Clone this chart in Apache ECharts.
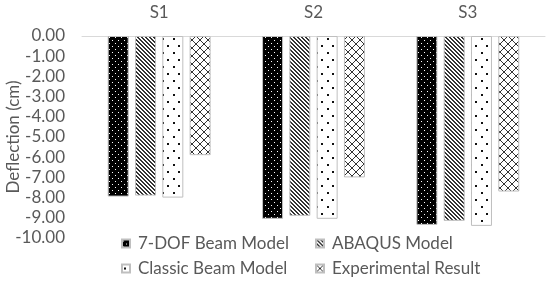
<!DOCTYPE html>
<html>
<head>
<meta charset="utf-8">
<script src="https://cdn.jsdelivr.net/npm/echarts@6/dist/echarts.min.js"></script>
<style>
  html, body { margin: 0; padding: 0; background: #fff; }
  #main { width: 550px; height: 283px; }
</style>
</head>
<body>
<div id="main"></div>
<script>
// data
var categories = ['S1', 'S2', 'S3'];
var dof7 = [-7.95, -9.05, -9.35];
var abaqus = [-7.9, -8.9, -9.15];
var classic = [-8.0, -9.05, -9.4];
var experiment = [-5.9, -7.0, -7.7];
var seriesNames = ['7-DOF Beam Model', 'ABAQUS Model', 'Classic Beam Model', 'Experimental Result'];

// little canvases used as fill patterns
function makeCanvas(w, h) {
  var c = document.createElement('canvas');
  c.width = w; c.height = h;
  return c;
}
function blackDots() {
  var c = makeCanvas(6, 6), g = c.getContext('2d');
  g.fillStyle = '#000'; g.fillRect(0, 0, 6, 6);
  g.fillStyle = '#fff';
  g.fillRect(1, 1, 1, 1);
  g.fillRect(4, 4, 1, 1);
  return c;
}
function hatch() {
  var c = makeCanvas(4, 4), g = c.getContext('2d');
  g.fillStyle = '#fff'; g.fillRect(0, 0, 4, 4);
  g.fillStyle = '#333';
  for (var i = 0; i < 4; i++) {
    g.fillRect(i, i, 1, 1);
    g.fillRect((i + 1) % 4, i, 1, 1);
  }
  return c;
}
function sparseDots() {
  var c = makeCanvas(11, 14), g = c.getContext('2d');
  g.fillStyle = '#fff'; g.fillRect(0, 0, 11, 14);
  g.fillStyle = '#111';
  g.fillRect(2, 3, 2, 2);
  g.fillRect(8, 10, 2, 2);
  return c;
}
function crossHatch() {
  var c = makeCanvas(8, 8), g = c.getContext('2d');
  g.fillStyle = '#fff'; g.fillRect(0, 0, 8, 8);
  g.strokeStyle = '#333'; g.lineWidth = 1;
  g.beginPath();
  g.moveTo(0, 0); g.lineTo(8, 8);
  g.moveTo(8, 0); g.lineTo(0, 8);
  g.stroke();
  return c;
}
var fills = [blackDots(), hatch(), sparseDots(), crossHatch()];
var values = [dof7, abaqus, classic, experiment];

var myChart = echarts.init(document.getElementById('main'));
var series = seriesNames.map(function (name, i) {
  return {
    name: name,
    type: 'bar',
    barWidth: 21,
    barGap: '30%',
    data: values[i],
    itemStyle: {
      color: { image: fills[i], repeat: 'repeat' },
      borderColor: '#bfbfbf',
      borderWidth: 1
    }
  };
});

var legendText = { color: '#595959', fontSize: 17, fontFamily: 'Lato', padding: [0, 0, 0, 3] };
var option = {
  animation: false,
  textStyle: { fontFamily: 'Lato' },
  grid: { left: 82, right: 5, top: 36, bottom: 45, outerBoundsMode: 'none' },
  legend: [
    {
      orient: 'vertical', left: 121, top: 235, height: 80, padding: 0,
      itemWidth: 8, itemHeight: 8, itemGap: 8, icon: 'rect',
      textStyle: legendText,
      data: [seriesNames[0], seriesNames[2]]
    },
    {
      orient: 'vertical', left: 315, top: 235, height: 80, padding: 0,
      itemWidth: 8, itemHeight: 8, itemGap: 8, icon: 'rect',
      textStyle: legendText,
      data: [seriesNames[1], seriesNames[3]]
    }
  ],
  xAxis: {
    type: 'category',
    position: 'top',
    data: categories,
    axisLine: { lineStyle: { color: '#d9d9d9', width: 1 } },
    axisTick: { show: false },
    axisLabel: { color: '#595959', fontSize: 17, margin: 15 }
  },
  yAxis: {
    type: 'value',
    min: -10, max: 0, interval: 1,
    name: 'Deflection (cm)',
    nameLocation: 'middle',
    nameGap: 60,
    nameMoveOverlap: false,
    nameTextStyle: { color: '#595959', fontSize: 17 },
    splitLine: { show: false },
    axisLine: { show: false },
    axisTick: { show: false },
    axisLabel: {
      color: '#595959', fontSize: 17, margin: 17,
      formatter: function (v) { return v.toFixed(2); }
    }
  },
  series: series
};
myChart.setOption(option);
</script>
</body>
</html>
